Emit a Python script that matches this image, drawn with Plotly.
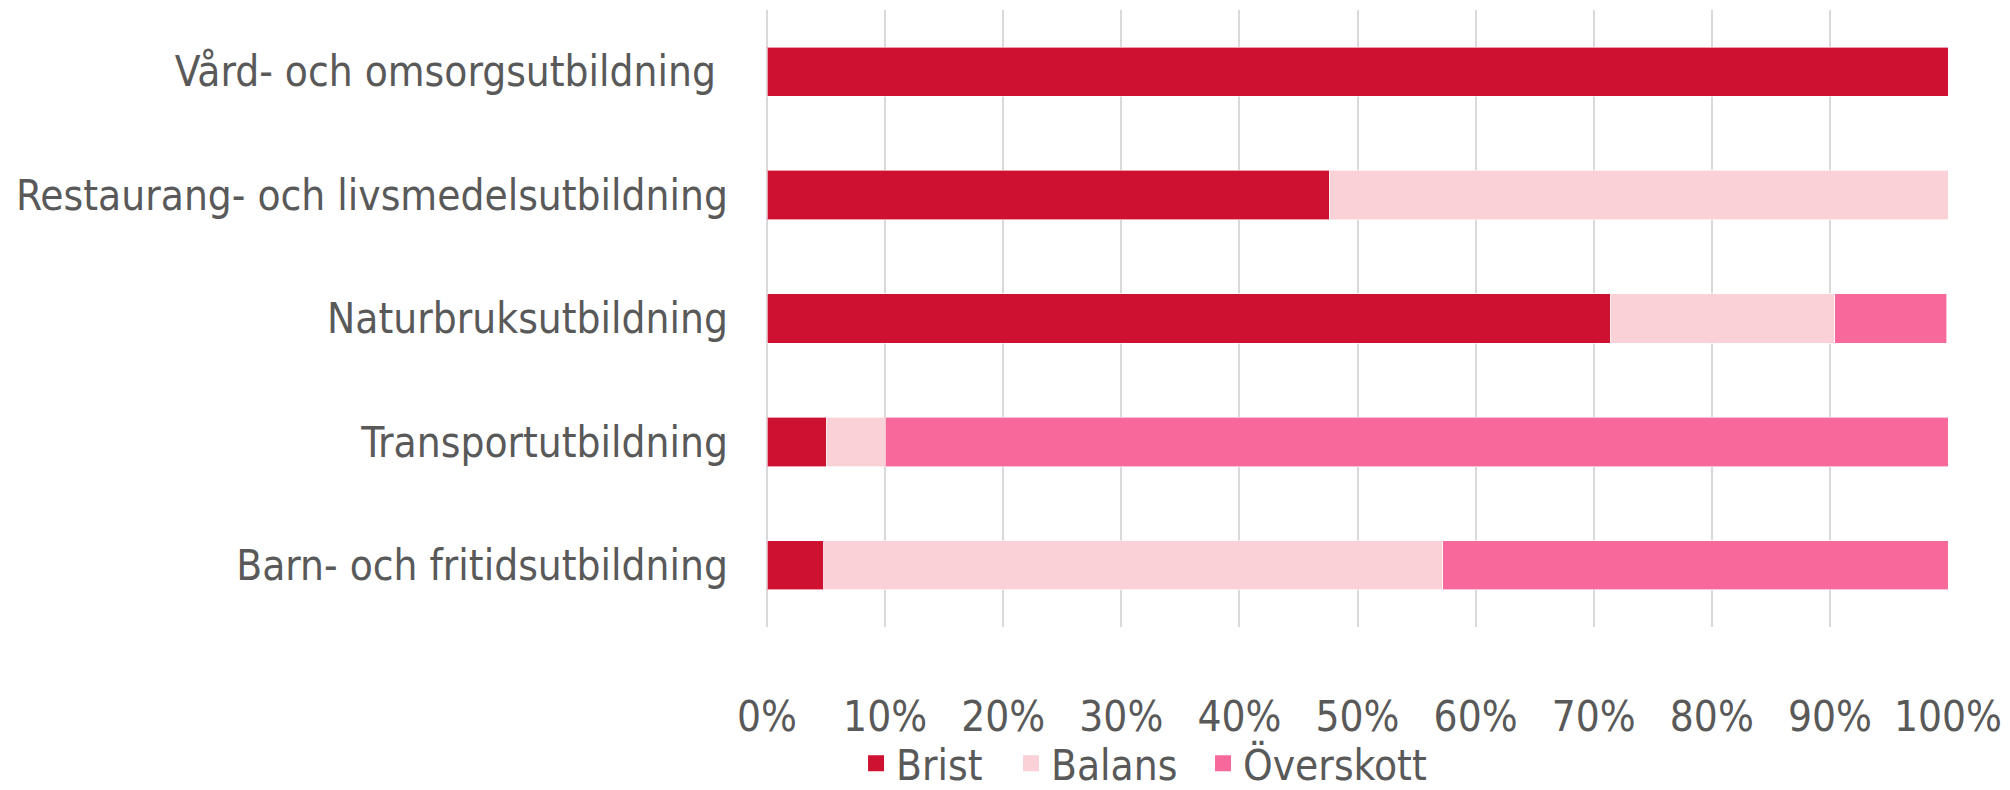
import plotly.graph_objects as go

categories = [
    "Vård- och omsorgsutbildning\u00a0",
    "Restaurang- och livsmedelsutbildning",
    "Naturbruksutbildning",
    "Transportutbildning",
    "Barn- och fritidsutbildning",
]
brist = [100.0, 47.6, 71.4, 5.0, 4.8]
balans = [0.0, 52.4, 19.0, 5.0, 52.4]
overskott = [0.0, 0.0, 9.5, 90.0, 42.9]

series = [
    ("Brist", brist, "#CE1130"),
    ("Balans", balans, "#F9D1D6"),
    ("Överskott", overskott, "#F6699A"),
]

FONT = "DejaVu Sans Condensed, sans-serif"
TXT = "#595959"
FS = 42

fig = go.Figure()
for name, vals, col in series:
    fig.add_trace(go.Bar(
        y=categories, x=vals, name=name, orientation="h", showlegend=False,
        marker=dict(color=col, line=dict(color="rgba(255,255,255,0.6)", width=1)),
    ))

# legend entries (one legend per entry so their spacing can follow the reference)
legend_names = ["legend", "legend2", "legend3"]
legend_x = [0.0754, 0.2066, 0.3692]
for (name, vals, col), lg in zip(series, legend_names):
    fig.add_trace(go.Scatter(
        x=[None], y=[None], mode="markers", name=name, legend=lg,
        marker=dict(symbol="square", size=24, color=col),
    ))

leg_common = dict(orientation="h", xanchor="left", y=-0.221, yanchor="middle",
                  font=dict(size=FS, color=TXT), itemwidth=30, bgcolor="rgba(0,0,0,0)")

fig.update_layout(
    width=2002, height=782,
    barmode="stack", bargap=0.6,
    paper_bgcolor="white", plot_bgcolor="white",
    margin=dict(l=759, r=62, t=2, b=163, autoexpand=False),
    font=dict(family=FONT, size=FS, color=TXT),
    legend=dict(x=legend_x[0], **leg_common),
    legend2=dict(x=legend_x[1], **leg_common),
    legend3=dict(x=legend_x[2], **leg_common),
    xaxis=dict(range=[0, 100], tickvals=[0, 10, 20, 30, 40, 50, 60, 70, 80, 90, 100],
               ticktext=[f"{v}%" for v in range(0, 101, 10)],
               showgrid=True, gridcolor="#D9D9D9", gridwidth=2,
               zeroline=True, zerolinecolor="#D9D9D9", zerolinewidth=2,
               ticklabelstandoff=61, ticklabeloverflow="allow",
               tickfont=dict(size=FS, color=TXT), fixedrange=True),
    yaxis=dict(autorange="reversed", showgrid=False, zeroline=False,
               ticklabelstandoff=38, tickfont=dict(size=FS, color=TXT)),
    showlegend=True,
)

fig.write_html("out.html")
